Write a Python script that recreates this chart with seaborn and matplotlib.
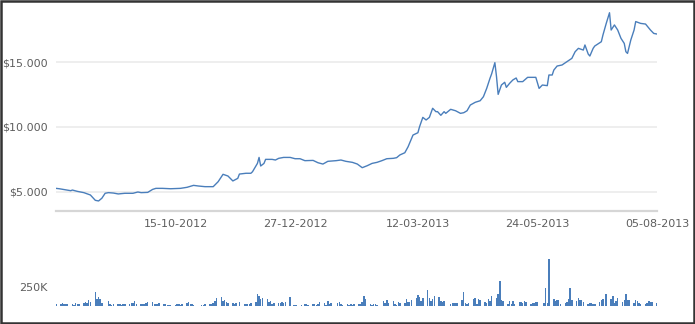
import matplotlib
matplotlib.use("Agg")
import matplotlib.pyplot as plt
import matplotlib.patches as mpatches
import seaborn as sns
import pandas as pd

# ---------------- data ----------------
price_dates = ["2012-08-03","2012-08-05","2012-08-12","2012-08-13","2012-08-16","2012-08-20","2012-08-24","2012-08-27","2012-08-29","2012-08-31",
"2012-09-02","2012-09-04","2012-09-07","2012-09-10","2012-09-14","2012-09-19","2012-09-22","2012-09-24","2012-09-28","2012-10-01",
"2012-10-03","2012-10-07","2012-10-12","2012-10-18","2012-10-22","2012-10-26","2012-10-29","2012-11-02","2012-11-07","2012-11-10",
"2012-11-13","2012-11-16","2012-11-19","2012-11-22","2012-11-23","2012-11-27","2012-11-30","2012-12-01","2012-12-04","2012-12-05",
"2012-12-06","2012-12-08","2012-12-09","2012-12-13","2012-12-15","2012-12-17","2012-12-20","2012-12-24","2012-12-27","2012-12-30",
"2013-01-02","2013-01-07","2013-01-10","2013-01-13","2013-01-16","2013-01-21","2013-01-24","2013-01-27","2013-01-31","2013-02-03",
"2013-02-06","2013-02-09","2013-02-12","2013-02-15","2013-02-18","2013-02-21","2013-02-25","2013-02-27","2013-03-01","2013-03-04",
"2013-03-06","2013-03-09","2013-03-12","2013-03-13","2013-03-15","2013-03-17","2013-03-19","2013-03-21","2013-03-23","2013-03-24",
"2013-03-26","2013-03-28","2013-03-29","2013-04-01","2013-04-04","2013-04-07","2013-04-09","2013-04-11","2013-04-13","2013-04-16",
"2013-04-19","2013-04-21","2013-04-23","2013-04-25","2013-04-26","2013-04-28","2013-04-29","2013-04-30","2013-05-02","2013-05-04",
"2013-05-05","2013-05-07","2013-05-09","2013-05-11","2013-05-12","2013-05-15","2013-05-18","2013-05-20","2013-05-23","2013-05-25",
"2013-05-27","2013-05-30","2013-05-31","2013-06-02","2013-06-03","2013-06-05","2013-06-08","2013-06-11","2013-06-14","2013-06-16",
"2013-06-18","2013-06-21","2013-06-22","2013-06-24","2013-06-25","2013-06-27","2013-06-28","2013-07-02","2013-07-03","2013-07-05",
"2013-07-07","2013-07-08","2013-07-10","2013-07-12","2013-07-14","2013-07-16","2013-07-17","2013-07-18","2013-07-20","2013-07-22",
"2013-07-23","2013-07-26","2013-07-29","2013-08-01","2013-08-03","2013-08-05"]

price_values = [5280,5250,5100,5150,5050,4950,4770,4360,4310,4520,
4900,4950,4920,4850,4900,4900,5000,4950,4970,5200,
5280,5280,5250,5280,5360,5510,5460,5410,5410,5790,
6360,6230,5850,6050,6380,6440,6440,6560,7200,7660,
7000,7200,7510,7510,7460,7590,7660,7660,7560,7560,
7410,7430,7250,7150,7360,7410,7460,7360,7280,7150,
6870,7020,7200,7280,7410,7560,7590,7640,7850,8020,
8480,9380,9560,10020,10740,10540,10740,11440,11180,11180,
10900,11180,11050,11360,11250,11050,11100,11250,11690,11900,
12020,12330,12970,13740,14080,14950,13870,12510,13230,13440,
13050,13360,13620,13770,13490,13490,13820,13820,13820,12970,
13230,13180,14000,14000,14380,14690,14770,15020,15280,15790,
16050,15920,16310,15610,15460,16050,16230,16560,17080,17970,
18790,17460,17850,17460,16820,16430,15790,15660,16690,17460,
18110,17970,17920,17460,17200,17150]

# trading-day volume, thousands
volume_k = [22,26,44,22,26,22,31,18,35,26,22,40,48,44,83,48,189,92,114,88,
44,61,26,18,22,31,26,18,22,26,22,35,40,70,31,22,26,31,35,53,
57,31,22,26,44,31,26,18,18,18,13,26,22,18,31,40,48,31,26,18,
13,18,26,22,31,44,61,110,123,61,75,53,40,40,31,35,57,31,
22,26,31,40,57,162,132,92,110,88,57,61,26,44,35,44,57,44,53,114,
13,9,9,13,22,22,18,22,31,18,31,48,40,13,66,31,35,44,53,26,18,
22,18,22,18,26,22,26,53,127,97,22,13,22,31,18,66,35,83,40,61,26,
18,53,35,35,88,57,53,75,110,140,119,66,101,206,110,66,97,127,119,66,
53,66,26,35,35,35,40,83,180,40,22,40,97,110,31,88,75,57,44,92,
70,127,105,158,329,75,66,31,61,22,61,26,57,53,40,61,53,31,44,44,
53,57,44,233,44,623,88,70,75,79,31,40,57,88,241,75,61,110,83,75,
53,31,40,40,31,31,53,75,97,162,97,127,44,61,105,53,83,154,75,75,
40,75,66,40,31,31,40,61,57,53,40]

market_holidays = ["2012-09-03","2012-10-29","2012-10-30","2012-11-22","2012-12-25",
                   "2013-01-01","2013-01-21","2013-02-18","2013-03-29","2013-05-27","2013-07-04"]

x_tick_dates = ["2012-08-03","2012-10-15","2012-12-27","2013-03-12","2013-05-24","2013-08-05"]
x_tick_labels = ["", "15-10-2012", "27-12-2012", "12-03-2013", "24-05-2013", "05-08-2013"]
y_ticks = [5000, 10000, 15000]
y_tick_labels = ["$5.000", "$10.000", "$15.000"]
vol_ticks = [250]
vol_tick_labels = ["250K"]

# ---------------- frames ----------------
price_df = pd.DataFrame({"date": pd.to_datetime(price_dates), "price": price_values})
vol_dates = pd.bdate_range("2012-08-03", "2013-08-05", freq="C", holidays=market_holidays)
n = min(len(vol_dates), len(volume_k))
vol_df = pd.DataFrame({"date": vol_dates[:n], "vol": volume_k[:n]})

# ---------------- styling ----------------
sns.set_theme(style="white")
plt.rcParams["font.family"] = ["DejaVu Sans"]
LINE = "#4a7ebb"
TXT = "#5e5e5e"
W, H = 695, 324
fig = plt.figure(figsize=(W / 100, H / 100), dpi=100)
fig.patch.set_facecolor("white")

def frac(l, t, r, b):
    return [l / W, 1 - b / H, (r - l) / W, (b - t) / H]

x0 = pd.Timestamp("2012-08-03")
x1 = pd.Timestamp("2013-08-05")

# main price axes
ax = fig.add_axes(frac(56, 5, 657, 211))
sns.lineplot(data=price_df, x="date", y="price", ax=ax, color=LINE, linewidth=1.0)
ax.set_xlim(x0, x1)
ax.set_ylim(3538, 19385)
ax.set_yticks(y_ticks)
ax.set_yticklabels(y_tick_labels)
ax.set_xticks(pd.to_datetime(x_tick_dates))
ax.set_xticklabels(x_tick_labels)
ax.set_xlabel("")
ax.set_ylabel("")
ax.grid(axis="y", color="#ebebeb", linewidth=1.2)
ax.grid(axis="x", visible=False)
for s in ["top", "right", "left"]:
    ax.spines[s].set_visible(False)
ax.spines["bottom"].set_color("#d6d6d6")
ax.spines["bottom"].set_linewidth(1.6)
ax.tick_params(axis="x", colors="#cccccc", length=4, width=1, pad=2,
               labelcolor=TXT, labelsize=8)
ax.tick_params(axis="y", length=0, pad=6, labelcolor=TXT, labelsize=8)

# volume axes
axv = fig.add_axes(frac(56, 250, 657, 306))
axv.bar(vol_df["date"], vol_df["vol"], width=0.9, color=LINE, edgecolor="none")
axv.set_xlim(x0, x1)
axv.set_ylim(0, 737)
axv.set_yticks(vol_ticks)
axv.set_yticklabels(vol_tick_labels)
axv.set_xticks([])
for s in ["top", "right", "left", "bottom"]:
    axv.spines[s].set_visible(False)
axv.tick_params(axis="y", length=0, pad=6, labelcolor=TXT, labelsize=8)
axv.set_facecolor("none")
axv.set_xlabel("")
axv.set_ylabel("")

# outer frame
fig.patches.append(mpatches.Rectangle((0.001, 0.002), 0.998, 0.996, transform=fig.transFigure,
                                      fill=False, edgecolor="#333333", linewidth=1.8))

fig.savefig("out.png", dpi=100)
